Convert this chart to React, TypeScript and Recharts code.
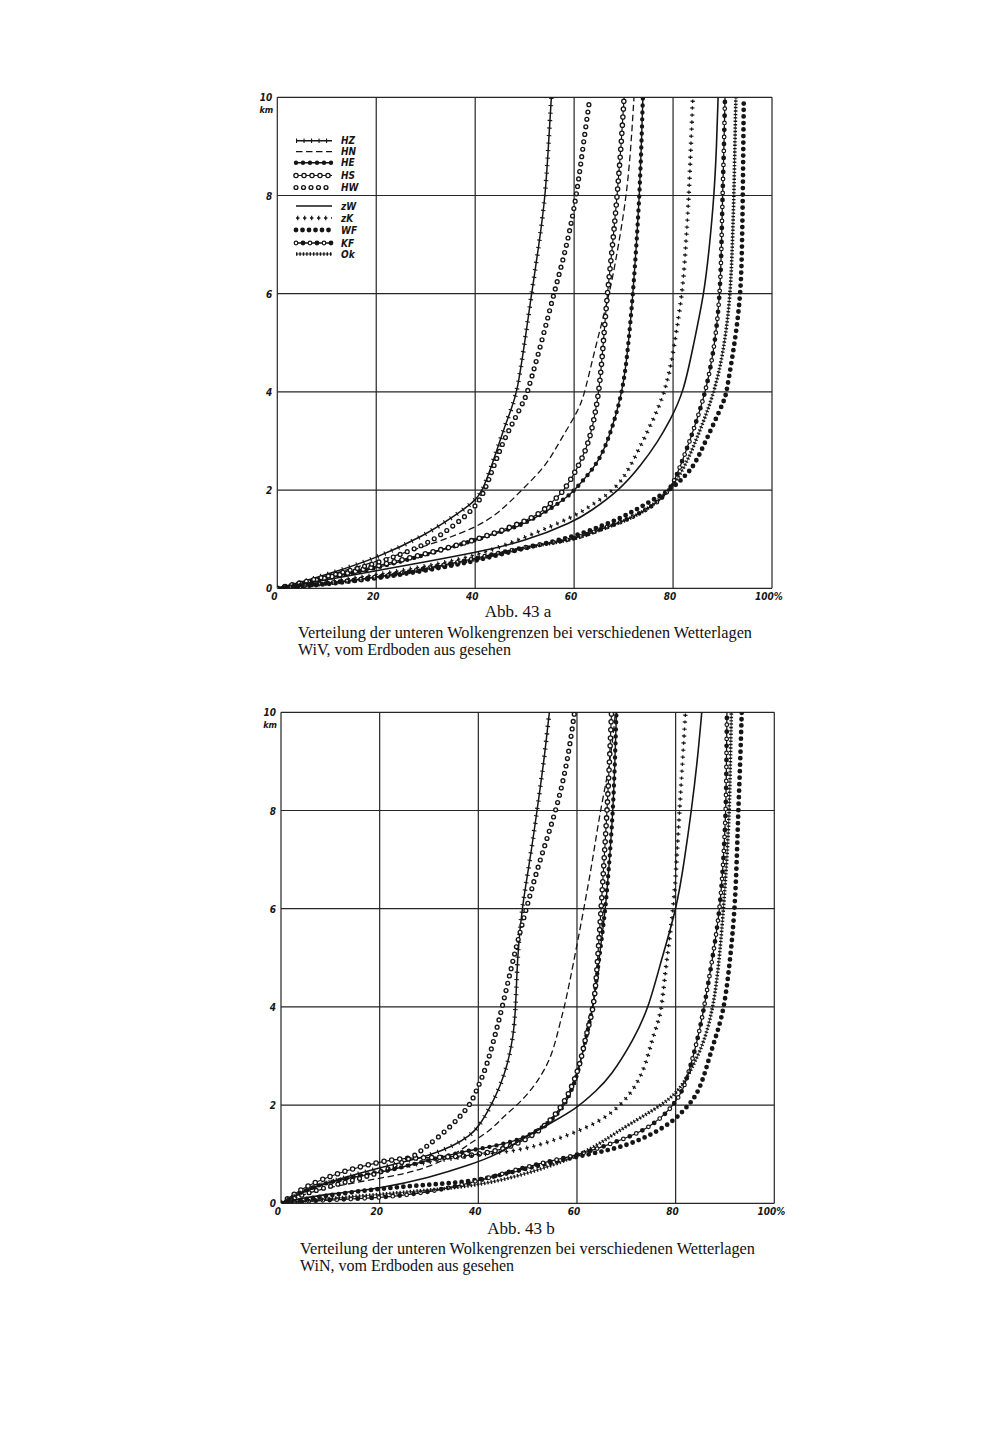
import React from 'react';
import { LineChart, Line, XAxis, YAxis, CartesianGrid } from 'recharts';

type P = [number, number];

const X_TICKS = [0, 20, 40, 60, 80, 100];
const Y_TICKS = [0, 2, 4, 6, 8, 10];
const SERIES_KEYS = ['HZ', 'HN', 'HE', 'HS', 'HW', 'zW', 'zK', 'WF', 'KF', 'Ok'];

// Abb. 43a — WiV  [percent, km]
const WIV_HZ: P[] = [[0,0],[5,0.13],[10,0.28],[20,0.61],[30,1.09],[35,1.42],[40,1.77],[41.5,2.0],[43,2.4],[44.5,2.85],[46,3.3],[47.3,3.65],[48.5,4],[50,5],[51.4,6],[52.9,7],[54.2,8],[54.8,9],[55.4,10]];
const WIV_HN: P[] = [[0,0],[10,0.26],[20,0.54],[30,0.86],[40,1.22],[45,1.55],[49.4,2.0],[54.4,2.5],[57.1,3],[61,3.64],[62.2,4],[64.5,5],[67.2,6],[69,7],[70.6,8],[71.5,9],[72.1,10]];
const WIV_HE: P[] = [[0,0],[10,0.2],[20,0.41],[30,0.68],[38.9,0.95],[45.7,1.16],[49.4,1.29],[55.1,1.6],[59.1,1.9],[60.5,2.05],[64.5,2.5],[66.9,3],[69.9,4],[71,5],[71.9,6],[72.6,7],[73.2,8],[73.6,9],[73.9,10]];
const WIV_HS: P[] = [[0,0],[10,0.21],[20,0.45],[30,0.7],[40,0.98],[48.7,1.3],[53.3,1.53],[55.4,1.75],[57.5,1.94],[59,2.16],[61.5,2.6],[63.4,3.1],[65.1,4],[65.9,5],[66.7,6],[67.8,7],[68.7,8],[69.5,9],[70.1,10]];
const WIV_HW: P[] = [[0,0],[10,0.24],[20,0.5],[30,0.88],[35,1.22],[40,1.63],[42,2.0],[43.8,2.5],[45.7,3],[48,3.45],[50,3.85],[50.6,4],[53.4,5],[55.9,6],[58.6,7],[60.5,8],[61.8,9],[63.2,10]];
const WIV_ZW: P[] = [[0,0],[10,0.17],[20,0.36],[30,0.54],[40,0.73],[50,0.95],[60,1.36],[63.2,1.56],[69.2,2.0],[73.5,2.5],[77,3],[79.3,3.4],[82.2,4],[84.2,5],[86.3,6],[87.4,7],[88.3,8],[88.8,9],[89.1,10]];
const WIV_ZK: P[] = [[0,0],[10,0.13],[20,0.27],[30,0.45],[40,0.65],[50,1.03],[60,1.46],[63.2,1.67],[68.2,2.0],[71,2.4],[73.9,3],[78.7,4],[80.3,5],[81.9,6],[82.6,7],[83.2,8],[83.6,9],[84,10]];
const WIV_WF: P[] = [[0,0],[10,0.08],[20,0.2],[30,0.36],[40,0.55],[50,0.82],[60,1.05],[65,1.25],[70,1.45],[75,1.75],[79.8,2.02],[82.5,2.3],[84.3,2.5],[86.6,3],[90.5,3.85],[90.8,4],[92.5,5],[93.7,6],[93.95,7],[94.1,8],[94.2,9],[94.3,10]];
const WIV_KF: P[] = [[0,0],[10,0.1],[20,0.22],[30,0.4],[40,0.6],[50,0.85],[60,0.99],[65.2,1.2],[69.9,1.36],[73.3,1.53],[76.6,1.72],[79.7,2.04],[81.5,2.5],[83.4,3],[86.7,4],[88.5,5],[89.5,6],[89.8,7],[90,8],[90.3,9],[90.5,10]];
const WIV_OK: P[] = [[0,0],[10,0.09],[20,0.21],[30,0.38],[40,0.58],[50,0.84],[60,0.98],[65,1.18],[70,1.36],[75,1.6],[79.75,2.04],[82.5,2.5],[84.6,3],[88.5,4],[90.5,5],[91.6,6],[92,7],[92.3,8],[92.5,9],[92.7,10]];

// Abb. 43b — WiN  [percent, km]
const WIN_HZ: P[] = [[0,0],[5,0.25],[10,0.45],[20,0.72],[25,0.85],[30,0.97],[35,1.17],[38.3,1.38],[40,1.55],[42.4,1.95],[44.5,2.4],[46,2.85],[47.1,3.4],[47.6,4],[47.9,5],[48.8,6],[50.5,7],[51.9,8],[53.3,9],[54.4,10]];
const WIN_HN: P[] = [[0,0],[5,0.2],[10,0.33],[20,0.51],[25,0.6],[30,0.74],[35,0.98],[38.3,1.22],[42.7,1.5],[45.1,1.77],[48.5,2.05],[51.9,2.45],[55,3],[56.6,3.7],[57.5,4],[59.5,5],[61.4,6],[63.2,7],[64.7,8],[66.8,9],[67.8,10]];
const WIN_HE: P[] = [[0,0],[5,0.28],[10,0.45],[20,0.62],[25,0.75],[30,0.88],[35,1.0],[38.3,1.08],[46.5,1.22],[51.9,1.46],[55.9,1.77],[58.6,2.18],[60.6,2.79],[61.7,3.33],[63.3,4],[64.5,5],[65.8,6],[66.6,7],[67.3,8],[67.7,9],[68,10]];
const WIN_HS: P[] = [[0,0],[5,0.35],[10,0.55],[13,0.66],[20,0.85],[25,0.92],[30,0.93],[35,0.95],[38.3,0.97],[45.1,1.09],[50.5,1.33],[54.6,1.67],[57.9,2.11],[60,2.65],[61,3],[62,3.5],[63.5,4],[64.2,5],[64.9,6],[65.5,7],[66.1,8],[66.6,9],[67,10]];
const WIN_HW: P[] = [[0,0],[5,0.2],[10,0.35],[15,0.48],[20,0.62],[25,0.85],[27.5,1.0],[29.5,1.16],[31.6,1.32],[34.3,1.56],[36.3,1.77],[38.3,2.0],[39.7,2.31],[41.1,2.65],[42.3,3],[44.9,4],[47.1,5],[49.7,6],[52.5,7],[55.8,8],[58.1,9],[59.5,10]];
const WIN_ZW: P[] = [[0,0],[5,0.12],[10,0.19],[20,0.3],[30,0.52],[38.3,0.78],[44,1.0],[48.5,1.29],[55.3,1.67],[60,1.94],[64,2.3],[66.8,2.58],[71.5,3.33],[74.6,4],[77.2,5],[80.2,6],[81.8,7],[83.2,8],[84.4,9],[85.3,10]];
const WIN_ZK: P[] = [[0,0],[5,0.28],[10,0.45],[20,0.65],[25,0.75],[30,0.84],[35,0.92],[40,0.99],[47.2,1.06],[53,1.2],[59.3,1.43],[65.4,1.7],[70.1,2.11],[73.5,2.65],[75.2,3.33],[76.5,3.7],[77.2,4],[78.2,5],[79.6,6],[80.2,7],[80.8,8],[81.4,9],[82,10]];
const WIN_WF: P[] = [[0,0],[10,0.17],[20,0.3],[30,0.38],[40,0.45],[50,0.72],[61.3,0.98],[67.4,1.1],[72.1,1.26],[76,1.45],[79.9,1.7],[82.6,2.0],[84.3,2.21],[85.8,2.6],[86.9,3],[88.5,3.5],[89.9,4],[91.1,5],[92,6],[92.4,7],[92.7,8],[93.1,9],[93.4,10]];
const WIN_KF: P[] = [[0,0],[5,0.04],[10,0.07],[20,0.11],[30,0.22],[40,0.45],[50,0.76],[60.6,0.99],[65.4,1.16],[70.8,1.36],[74.9,1.56],[78.9,1.9],[81.6,2.31],[82.7,2.7],[83.6,3],[84.8,3.5],[85.8,4],[87.5,5],[89,6],[89.7,7],[90.2,8],[90.3,9],[90.4,10]];
const WIN_OK: P[] = [[0,0],[10,0.1],[20,0.18],[30,0.27],[40,0.36],[50,0.6],[61,0.98],[66.7,1.36],[72.1,1.7],[76.2,1.94],[80.3,2.24],[82.5,2.6],[84,2.9],[85.8,3.3],[87.7,4],[88.9,5],[89.7,6],[90.4,7],[90.9,8],[91.1,9],[91.3,10]];

const PANEL_A: Record<string, P[]> = { HZ: WIV_HZ, HN: WIV_HN, HE: WIV_HE, HS: WIV_HS, HW: WIV_HW, zW: WIV_ZW, zK: WIV_ZK, WF: WIV_WF, KF: WIV_KF, Ok: WIV_OK };
const PANEL_B: Record<string, P[]> = { HZ: WIN_HZ, HN: WIN_HN, HE: WIN_HE, HS: WIN_HS, HW: WIN_HW, zW: WIN_ZW, zK: WIN_ZK, WF: WIN_WF, KF: WIN_KF, Ok: WIN_OK };

const INK = '#151515';
const PAPER = '#ffffff';

type Layer = { stroke: string; w: number; dash?: string; cap?: 'round' | 'butt'; off?: number };
const LAYERS: Record<string, Layer[]> = {
  HZ: [{ stroke: INK, w: 1.5 }, { stroke: INK, w: 4.6, dash: '1.1 6.4', cap: 'butt' }],
  HN: [{ stroke: INK, w: 1.3, dash: '6.5 3.5', cap: 'butt' }],
  HE: [{ stroke: INK, w: 1.4 }, { stroke: INK, w: 4.4, dash: '0 7', cap: 'round' }],
  HS: [{ stroke: INK, w: 1.2 }, { stroke: INK, w: 5.6, dash: '0 8', cap: 'round' }, { stroke: PAPER, w: 3, dash: '0 8', cap: 'round' }],
  HW: [{ stroke: INK, w: 5.2, dash: '0 7.5', cap: 'round' }, { stroke: PAPER, w: 2.5, dash: '0 7.5', cap: 'round' }],
  zW: [{ stroke: INK, w: 1.6 }],
  zK: [{ stroke: INK, w: 1.3, dash: '3.4 3.6', cap: 'butt' }, { stroke: INK, w: 4.4, dash: '1.2 5.8', cap: 'butt', off: -1.1 }],
  WF: [{ stroke: INK, w: 4.8, dash: '0 6.5', cap: 'round' }],
  KF: [{ stroke: INK, w: 1.3 }, { stroke: INK, w: 4.8, dash: '0 7', cap: 'round' }, { stroke: PAPER, w: 2.4, dash: '0 14', cap: 'round' }],
  Ok: [{ stroke: INK, w: 3.6, dash: '1.4 2', cap: 'butt' }, { stroke: INK, w: 0.8 }],
};

const LEGEND_ROWS = [140.7, 151.7, 162.7, 175.5, 187.5, 206, 218, 230, 243, 254];

const toPts = (arr: P[]) => arr.map(([p, h]) => ({ p, h }));

const tickFont = { fontFamily: '"DejaVu Sans Condensed", "DejaVu Sans", sans-serif', fontStyle: 'italic' as const, fontWeight: 700, fontSize: 10, fill: INK };

const XTick = (props: any) => {
  const { x, y, payload } = props;
  const v = payload.value;
  return (
    <text x={x - 3} y={y + 12} textAnchor="middle" {...tickFont}>
      {v === 100 ? '100%' : String(v)}
    </text>
  );
};

const YTick = (props: any) => {
  const { x, y, payload } = props;
  const v = payload.value;
  return (
    <g>
      <text x={x - 5} y={y + 4} textAnchor="end" {...tickFont}>{String(v)}</text>
      {v === 10 ? <text x={x - 4} y={y + 16} textAnchor="end" {...tickFont} fontSize={9}>km</text> : null}
    </g>
  );
};

function Panel({ data, margin }: { data: Record<string, P[]>; margin: any }) {
  return (
    <LineChart width={1000} height={700} margin={margin}>
      <CartesianGrid stroke="#262626" strokeWidth={1.2} />
      <XAxis dataKey="p" type="number" domain={[0, 100]} ticks={X_TICKS} axisLine={false} tickLine={false} tickSize={0} tickMargin={0} height={20} interval={0} tick={XTick} allowDataOverflow />
      <YAxis dataKey="h" type="number" domain={[0, 10]} ticks={Y_TICKS} axisLine={false} tickLine={false} tickSize={0} tickMargin={0} width={20} interval={0} tick={YTick} allowDataOverflow />
      {SERIES_KEYS.flatMap((k) =>
        LAYERS[k].map((s, i) => (
          <Line
            key={k + '-' + i}
            data={toPts(data[k])}
            dataKey="h"
            type="basis"
            dot={false}
            activeDot={false}
            isAnimationActive={false}
            stroke={s.stroke}
            strokeWidth={s.w}
            strokeDasharray={s.dash}
            strokeLinecap={s.cap || 'butt'}
            strokeDashoffset={s.off || 0}
            legendType="none"
          />
        ))
      )}
    </LineChart>
  );
}

const CAPTION_FONT = { fontFamily: '"Liberation Serif", "DejaVu Serif", serif', fontSize: 17, fill: '#111' };

function LegendSample({ k, y }: { k: string; y: number }) {
  return (
    <g>
      {LAYERS[k].map((s, i) => (
        <line key={i} x1={296} x2={332} y1={y} y2={y} stroke={s.stroke} strokeWidth={s.w} strokeDasharray={s.dash} strokeLinecap={s.cap || 'butt'} strokeDashoffset={s.off || 0} />
      ))}
      <text x={341} y={y + 3.5} {...tickFont} fontSize={10}>{k}</text>
    </g>
  );
}

export default function App() {
  return (
    <div style={{ position: 'absolute', left: 0, top: 0, width: 1000, height: 1445, background: PAPER, overflow: 'hidden' }}>
      <div style={{ position: 'absolute', left: 0, top: 0 }}>
        <Panel data={PANEL_A} margin={{ top: 97.3, left: 257.3, right: 228, bottom: 91.7 }} />
      </div>
      <div style={{ position: 'absolute', left: 0, top: 620 }}>
        <Panel data={PANEL_B} margin={{ top: 92.3, left: 261, right: 225.7, bottom: 96.7 }} />
      </div>
      <svg width={1000} height={1445} style={{ position: 'absolute', left: 0, top: 0, pointerEvents: 'none' }}>
        {SERIES_KEYS.map((k, i) => (
          <LegendSample key={k} k={k} y={LEGEND_ROWS[i]} />
        ))}
        <text x={518} y={617} textAnchor="middle" {...CAPTION_FONT}>Abb. 43 a</text>
        <text x={298} y={638} textLength={454} lengthAdjust="spacingAndGlyphs" {...CAPTION_FONT}>Verteilung der unteren Wolkengrenzen bei verschiedenen Wetterlagen</text>
        <text x={298} y={655} textLength={213} lengthAdjust="spacingAndGlyphs" {...CAPTION_FONT}>WiV, vom Erdboden aus gesehen</text>
        <text x={521} y={1234} textAnchor="middle" {...CAPTION_FONT}>Abb. 43 b</text>
        <text x={300} y={1254} textLength={455} lengthAdjust="spacingAndGlyphs" {...CAPTION_FONT}>Verteilung der unteren Wolkengrenzen bei verschiedenen Wetterlagen</text>
        <text x={300} y={1271} textLength={214} lengthAdjust="spacingAndGlyphs" {...CAPTION_FONT}>WiN, vom Erdboden aus gesehen</text>
      </svg>
    </div>
  );
}
